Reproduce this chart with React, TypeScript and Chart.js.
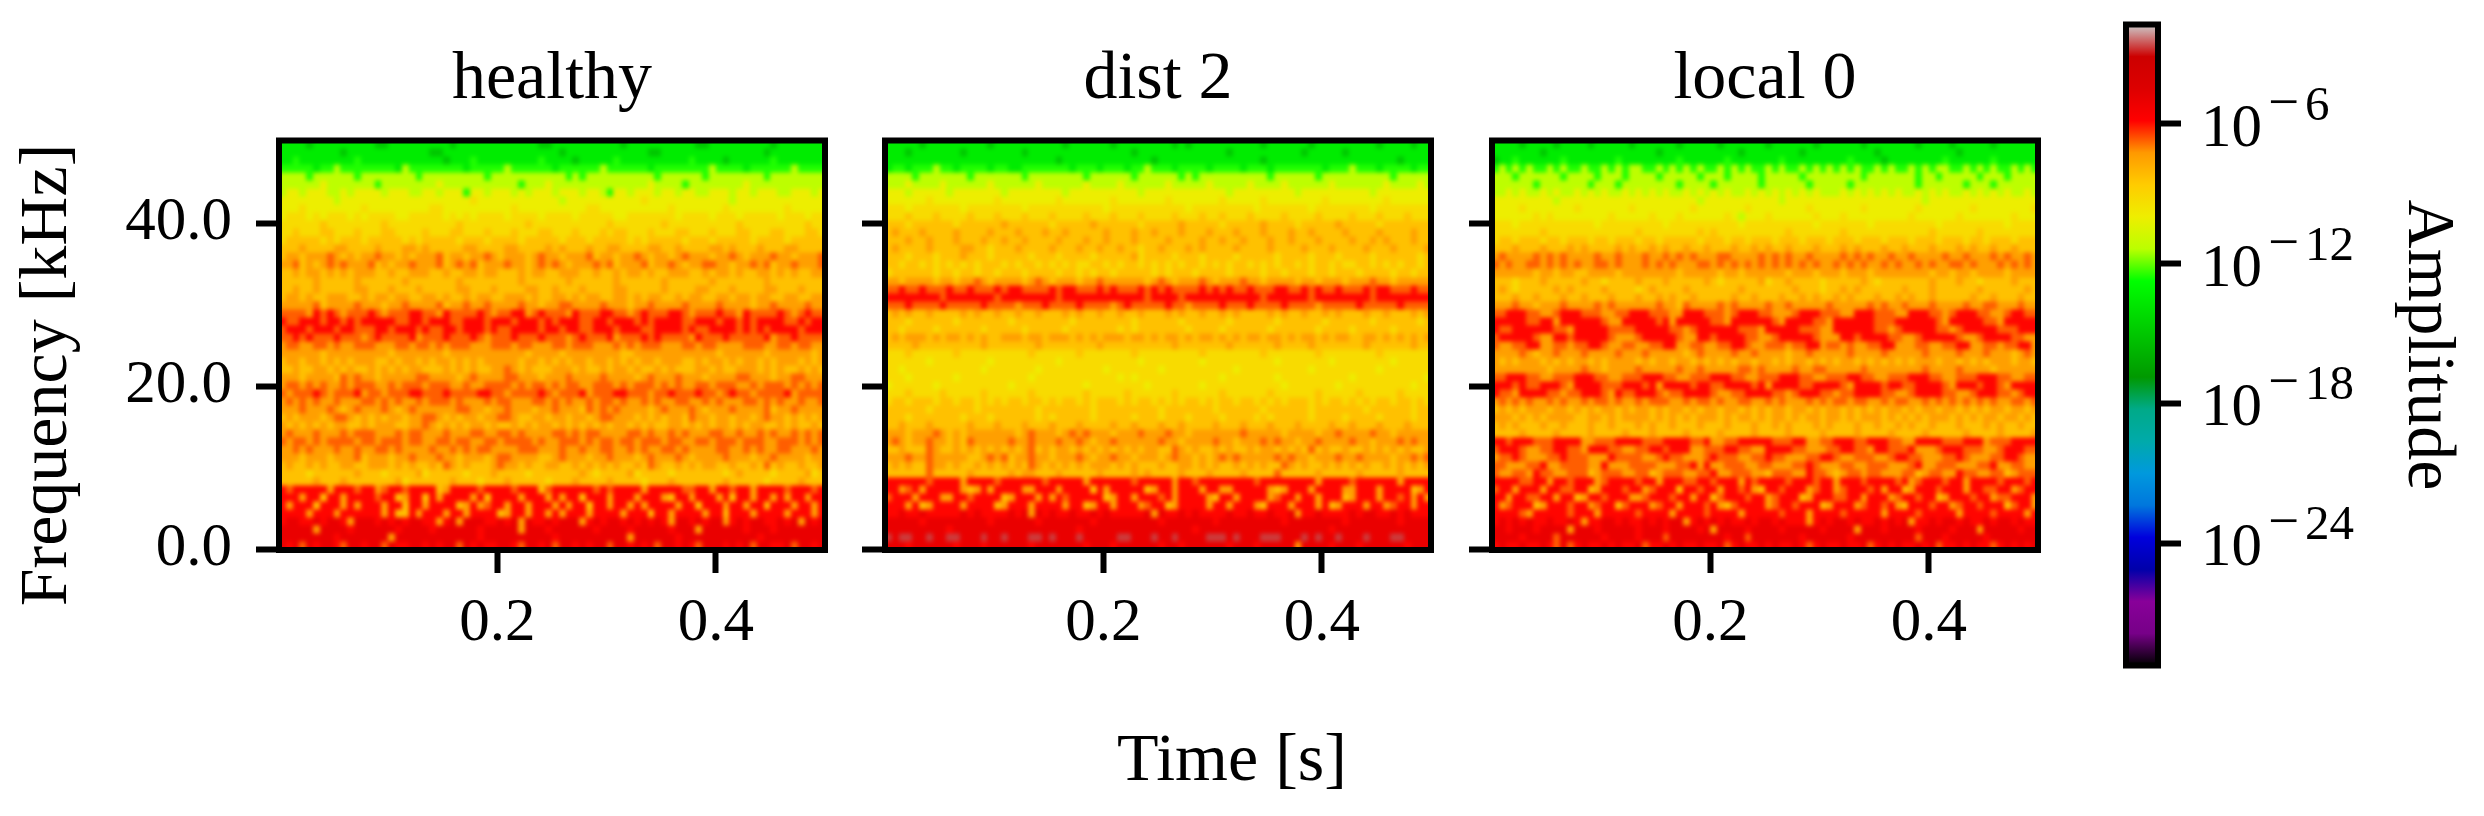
import { useEffect, useRef } from "react"
import { Chart, registerables } from "chart.js"

Chart.register(...registerables)

const FIG_W = 2484
const FIG_H = 816
const SERIF = "'Liberation Serif', serif"

const panelTitles = ["healthy", "dist 2", "local 0"]
const timeTicks = [0.2, 0.4]
const freqTicks = [0, 20, 40]
const ampExponents = [-6, -12, -18, -24]

// log10 amplitude for each character used in the cell rows below
const levelValues: Record<string, number> = {
  "0": -15, "1": -13.5, "2": -12.5, "3": -11.3, "4": -10, "5": -9.2,
  "6": -8.3, "7": -7.4, "8": -6.7, "9": -5.9, a: -5, b: -2.7,
}

// rows run from the top of the panel (50 kHz) down to 0 kHz, estimated by eye
const healthyCells = [
  "11110111111111001111111110111111111111001111111111011111111110011111111101111111",
  "11111111101111111111110011111111111111111011111111111100111111111111111011111111",
  "11211111111211111111111101112111111111211110111112111111111121111011111121111111",
  "22222122322222222132222222212222232222221222222322222212222222232222122222232222",
  "33332333333233333333233333333323333333333323233333333332333333233333333233333333",
  "33333343333333233333333433333333333233343333333333333343333233333333433333333333",
  "34434443343444434443344344424434443434443444344324434443443443344434434443344434",
  "44444444344444444444444444445444444444444344444444444544444444444434444444444444",
  "44454444444454444444445544444444445444444444455444444444454444444544444444544444",
  "45554545554545555445555545454555545555455554555554455555554555545554555554555455",
  "55555565555555565555555555655555555565555555555565555555655555555556555555555655",
  "55655566555655566555565556655565556555665556555656655565556655565556655566555665",
  "56666656566656666656566666566656666566666566656666656566666566656666656666566666",
  "66676666776666766677676666677666677666676766676677666677667666677676667666776666",
  "67767778767677877676777867767787677767877677786776778767767877767787677787767778",
  "77867678787778676778777867878677787767878767778786777867787677887767787867787778",
  "66767767676777667667776676677677666767766777667667677676677766767767667767676677",
  "66666766666766666676666666766666666766666676666667666666766666676666666766666666",
  "66766766666776667666766666776667666677667666766667766666766667766676666776667666",
  "67767667776676776776677676676776677767667767677667767677667677667767767766776677",
  "77777867777877767787777867787787777877677887777877767787777877778777767787777877",
  "88887989878889878889988798888987889978988879888998878988899878889887988889878988",
  "98899989989899999889989998899989998999898999889989998989999889998998989999889899",
  "89998999899888998999898899899989889999899899889998999889999898899998989899998999",
  "88989888988878988889788898889878889888988878988897888989888879888988888978898888",
  "78877887877888777887887878887778887887778878887778787888777887887777888778878877",
  "77777767777777776777777767777777777767777677777777667777777777776777777677777767",
  "67767767676777667677676776767677777677676767767767676776777667677676776767776767",
  "66766776767667676767766676767667787676667776766767767667676667767667776767667676",
  "77767777687877677777887777678777788777677787777877776787778777677778877767788777",
  "78878787787888778788878887787788887878878788778887878887878778878887787888787878",
  "87888987888978878889988898888998878888987888978889988878898889887898878888978888",
  "78787877877788787877878887877787887778878787787887877878778877878777887878778778",
  "77787778767877787678777777887767787776778777687878777767877787677787777867787777",
  "67677767887676767767788767677677887667767767767887776767677687767767767877676767",
  "76767676776676777667787676767767667676776767676767767676677676767767677667676676",
  "78777877787888777878877787778877887877778878788777788787787877788778778787787878",
  "87887878888788788878877887887788788887877888787887887888788778878887888778887878",
  "77878777877877887877778778787887777888777877877887787877887877778877878778877787",
  "77767776777867776778777877677767887777667877767787776787778767777877767787777677",
  "67667676677667776767667687676667877676677667676767667687667676776676676867667667",
  "66665666666766656666756666656667666656666666765666675666656666666567666656666756",
  "66666766676666666756666667666566676666656667666676666566676666666766666566667666",
  "98999997999899789989999679999899998999689999998989999799999889979989979999899989",
  "99979969979999899679969799997969999799979799699979997999769979997969979979799799",
  "97999699979799979969979999679789979979997979969979979799997996999799799699979979",
  "99997999799999979669799979979999679979979799979999799969979999799699979999799979",
  "9aa99a9aa97aaa9a9a9aa9979a7aaa99a9a7a99a9aaa79a9aa9a9a9a97aa9a9aa79a9aa99a9a7a9a",
  "aaaaa7aaaa9aaaaaa9aaaa9aaaaaa9aaaaa7aaa9aaaaaa9aaaa9aaaaa9aaa7aaaaaa9aaa9aaaaaaa",
  "aaaaaaaa9aaaaaaa7aaaaaaaaaaaa9aaaaaaaaaa9aaaaaaaaaa7aaaaaa9aaaaaaaaaaa9aaaaaaaaa",
  "a9a8a9aa98aa9aa8a99aa9a9aa8a9a99aa98aa9a8aa9a9aa8aa9a9a8aa9a98aaa9a9a8aa99a8aa9a",
]

const dist2Cells = [
  "11111011111111101111111111011111101111111101011111111110111111011111111101111011",
  "11101111111011111111011111111111111101111111111111011111111110111110111111111111",
  "11111111111111111111111110111111111111101111111111111110111111111111111111101111",
  "12212223221222212211222222212221222122322212222122221222122222221222322212222122",
  "33332333333323333333233333333233333323333332323333333333233333323333333333233333",
  "33343333433333343333334333333433334333333433333433333433334333333433333334333343",
  "44434444434444444344444444344444444443444444444444344444444434444444444344444444",
  "44444454444444445444444445444444454444444544444445444445444444445444444445444444",
  "55545555555455555555455555555555455555555555455555555545555555455555555455555555",
  "55565556555565556555655565555655565556555565556556555655556555565555655565556555",
  "66656666665666666766666656666676666665666667666665666667666656666676666656666666",
  "67666766667666676667666766766666766676676667666766676667666766766667666676666766",
  "66676676667666766766766667666766766676666766667667667666766766676666766767666766",
  "67666676666776656667666676667667667665667666767666676666766667666766667666766667",
  "66656665666766656666656665666656666675666656665666656666656666566656666566666656",
  "66566565656565666565665656565566565665656565665656566565656656566565566565656656",
  "56666665665665665666566665665656656666656566656666566665665666566566656666566566",
  "77677776776778767777678767776778777777678767778767778776777767767776777877677777",
  "88988988898898889899888898998889898889898988889898988988899889898898889899888988",
  "99999999899999998999999998999999999999899998999999999998999999899999999899999999",
  "88898888988888988887888988889888878988888988788889888988889888878888898888898888",
  "67676676666767667667667666767667667667666767667667676666767667667676667667666767",
  "66656666665666666656666666656666666656666665666666566666656666665666666566666656",
  "66566665666666566666566666566666665656666666566665666666566666656666566666566666",
  "67677767677676766777677677767676777677676776767767676776776767767677667767676767",
  "66667666666666766666667666666667666666666676666666766666676666766666667666666766",
  "55565555556555555555565555556555555565555555556555555556555555565555555565555555",
  "55555545555555545555555554555555555554555555554555555555545555555455555555455555",
  "55455555555555455555554555555555455555554555555555545555555555455555555545555555",
  "55545555554555555555545555555555554545555555555554555555545555555555455555555554",
  "45555554555555555545555555555455555555455555554555555555554555555545555555555455",
  "55565555655555655555565555555655555655555565555556555555655555565555565555565555",
  "56656665665665656566566565665656665656656565665656656656565666565665656566566565",
  "66666656666665666666665666666656666666665666666656666665666666566666665666666566",
  "66656666666566656666665656666656666656665666566665666656566666566665666656666566",
  "66766676666676667666766676667666676676667667666676667666766676666766766676667666",
  "77767778767677777776787776787877767778777877677777778777776777767787777877677777",
  "78767787767687777787787778778767787777778776777787767778787767787777877677787877",
  "66766687667676767676786767767676767676776687676676766767767676867667667676767667",
  "77787787777766787867787767778767787767776787767678787777787877677787787777677878",
  "67676687767667676767687676767677767676667667767676676767668767667676767667676767",
  "66666686666676666676776667666667666676766667666766667666686666676666676666676666",
  "99999989999799998999999899999799999989999979989999999989999999979999899999979999",
  "99789799999767979999779997999969799999679979997997799999767999799997799979999679",
  "89997999779989999679997979899999679979998979999769979999789979979996799979989797",
  "99979679999799996799979999799679979997899679999799799976999799979679997997899799",
  "99a99a99999a9a9999a9a7a9a99a99a9a99999a7a99a9a9999a99a99a99a799a9999a9aa99a9a999",
  "aaaaa9aaaaaaaaa9aaaaaa9aaaaaaa9aaaaaaaaa9aaaaaaa9aaaaaaaaa9aaaaaaaa9aaaaaaa9aaaa",
  "aaaaaaaaa9aaaaaaaaaaaaaaaaaa9aaaaaaaaaaaaaaaa9aaaaaaaaaaaaaaaaaaa9aaaaaaaaaaaaaa",
  "babbaabaabbaaabaabaaabbabaaabaaaaabbaaabaabaaaabbbabaaabbbaaababaabaaabaaabbaaaa",
  "aaa9aaaaaa9aaa9aaaaaa9aaaaaaa9aaa9aaaaaa9aa9aaaaaa9aaa9aaaaa7aaaa9aaa9aaaaaa9aaa",
]

const local0Cells = [
  "11110111101111011111011111101111101111110111111011111101111111011110111110111111",
  "11111110111111111111111101111111111101111111101111111111011111111111011111111111",
  "01121111112111111121111111121111112111111121111111112111101111111121111112111111",
  "23232322323223223232332232323232232323223232232323232322323223232332232323223232",
  "33323333332333323332333323333323332333323333323333333323333333233233333233323333",
  "33333323333333233323333333323333233333323333332333332333333333233333323332333333",
  "33434334343343434334343434334343434334343434343433343434343433434343343434343343",
  "44444444434444444444444444444434444444444434444444444444444444434444444444444444",
  "44445444444454444444544444444544444445444444445444444454444444544444445444444445",
  "44444454544444444544444544454444445434445444444544454444444445444444544444445444",
  "55545555555555545555555554555555555545555555555455555554555555555455555555545555",
  "55555556555555555555565555555565655555555556555555565555555555556555555655555555",
  "56656665665666566566656656666656665665666566656665666566656665666566656656665666",
  "66676667666767666676766767667667666766767667666766676766676676667666767667667666",
  "78777787878777787787778778787877788777787878778777787878778778777787787778787787",
  "87877887878787788787778787877788787878787878787877878787787877878778878777878787",
  "77777767767766777767777777767777767767777776777677767776777777776776776777767777",
  "66656667666667665666676667666667656666675667666656666676566666667666766566667666",
  "67656666676766667666656766667666666676666666766656676766666676667666666766666676",
  "66676676667667666766676676766766666766766676676766767666766767667666667667666766",
  "77787767778777787877777787768777787877778778777778777778787787778777787788777877",
  "88999887789998887788999888779998887899988777899988877999888779998878999887789988",
  "99999889979999998779999989799999887999999879999887999999888999999879999988799999",
  "98899999988799999888899999887899999988879999988877999999887899999887899999888999",
  "89999987799899999877789999987799899998877899999877799899998877899999877899998877",
  "87788997788788998778877889977887788998778887889978878778899777887788997788788997",
  "77778767787778777787778777776787777877877776778777778777787777787777877787776787",
  "76767776767677676777767677677676767677677676776767677676767676777677676767776776",
  "77777777677778776777787777787787777788787777877887777787777777787777877776777777",
  "88999887788899988778889998877888999887788899988778889988778889998877888999887788",
  "99989889998799998889998979999899889999897999988999987999989988999987999899879999",
  "98879999887889998798899987889999877889999887899988788999988778999988778999887899",
  "78787877878778788787787888778788787788778787778787887887787887787878787878778878",
  "67676777677676767767677676776767767767676776776767767676767767677677676767767767",
  "77767676777766776767777676767677767677676776767767767677767676767776767677677676",
  "67676667667666766766676766766676667666766767666767666766766767667666766676766766",
  "66667666676666766667666766667666676666766667666676666766667666676666676666766667",
  "99899988899997788899998889999889778899999888997788999889998877999988899978889999",
  "89998778899887999887788998999778889988779999887778899887998889777899988877899988",
  "78898777889888777988887789887778988877889887778899877888778998877788987778899877",
  "88777889778888779777888877788979778887788777889877788778887778977888777889778877",
  "87788798877888678887788678887788977888776888779887678878877788678877988778867888",
  "99998899799899978999989979998899899979899998999899799989999897899989979999899989",
  "89979997998899679998997899969989979989769989997899789998979967999899979988997899",
  "99799889979967998999778999899799689998997899967999889979997899899679998997889997",
  "97899967999899789968999789979998976899997899899967999789989769998997899899968997",
  "99998799999899979999989999799998999979999989997999989999979999899999799998999979",
  "9a9a9a99a99a9799aa9a99a9a9aa79a9a9a99a9aa9a99979a9aa9a99a9a9a799a9aa9a99a9aa9a99",
  "aa9aaa9aaaa7aaa9aaaaa9aaa9aaaa9a7aaaa9aaaa9aaaaa9aaaa7aaa9aaaa9aaaa9aaa7aaaaa9aa",
  "aaaa9aaaa8aaaaaa9aaaa9aaa8aaaaaaaa9aa8aaaaaaa9aaaaaa9aaaaaaaaa8aaa9aaaaa9aaaaaaa",
  "9a99a99a98a89a99a9a99a899a9a99a99a89a99a9a99a989a99a99a89a9a99a9a899a9a9989a9a9a",
]

// nipy_spectral, one colour per 0.05 of the scale
const spectralStops = [
  [0, 0, 0], [119, 0, 136], [136, 0, 153], [0, 0, 170], [0, 0, 221], [0, 119, 221], [0, 153, 221],
  [0, 170, 170], [0, 170, 136], [0, 153, 0], [0, 187, 0], [0, 221, 0], [0, 255, 0], [187, 255, 0],
  [238, 238, 0], [255, 204, 0], [255, 153, 0], [255, 0, 0], [221, 0, 0], [204, 0, 0], [204, 204, 204],
]

const LOG_MIN = -29.25
const LOG_MAX = -1.73

function amplitudeColor(logAmp: number) {
  const pos = Math.min(0.9999, Math.max(0, (logAmp - LOG_MIN) / (LOG_MAX - LOG_MIN))) * 20
  const i = Math.floor(pos)
  const f = pos - i
  const c = spectralStops[i].map((v, k) => Math.round(v + (spectralStops[i + 1][k] - v) * f))
  return `rgb(${c[0]},${c[1]},${c[2]})`
}

const FREQ_MIN = -0.09
const FREQ_MAX = 50.12
const TIME_MAX = 0.5
const PANEL_W = 546

function cellsFrom(rows: string[]) {
  const cells: any[] = []
  const rowH = (FREQ_MAX - FREQ_MIN) / rows.length
  rows.forEach((row, r) => {
    const colW = TIME_MAX / row.length
    row.split("").forEach((ch, c) => {
      cells.push({ x: c * colW, y: FREQ_MAX - r * rowH, w: colW, h: rowH, v: levelValues[ch] })
    })
  })
  return cells
}

const heatmapPlugin = {
  id: "heatmap",
  beforeDatasetsDraw(chart: any) {
    const { ctx, chartArea: area, scales } = chart
    const pad = 8
    const off = document.createElement("canvas")
    off.width = Math.ceil(area.width + pad * 2)
    off.height = Math.ceil(area.height + pad * 2)
    const oc = off.getContext("2d")!
    for (const cell of chart.data.datasets[0].data) {
      let x0 = Math.round(scales.x.getPixelForValue(cell.x) - area.left + pad)
      let x1 = Math.round(scales.x.getPixelForValue(cell.x + cell.w) - area.left + pad)
      let y0 = Math.round(scales.y.getPixelForValue(cell.y) - area.top + pad)
      let y1 = Math.round(scales.y.getPixelForValue(cell.y - cell.h) - area.top + pad)
      if (cell.x === 0) x0 = 0
      if (cell.x + cell.w >= TIME_MAX - 1e-9) x1 = off.width
      if (cell.y >= FREQ_MAX - 1e-9) y0 = 0
      if (cell.y - cell.h <= FREQ_MIN + 1e-9) y1 = off.height
      oc.fillStyle = amplitudeColor(cell.v)
      oc.fillRect(x0, y0, x1 - x0, y1 - y0)
    }
    ctx.save()
    ctx.beginPath()
    ctx.rect(area.left, area.top, area.width, area.height)
    ctx.clip()
    ctx.filter = "blur(2px)"
    ctx.drawImage(off, area.left - pad, area.top - pad)
    ctx.restore()
  },
}

const framePlugin = {
  id: "frame",
  afterDatasetsDraw(chart: any) {
    const { ctx, chartArea: area } = chart
    ctx.save()
    ctx.strokeStyle = "#000"
    ctx.lineWidth = 6
    ctx.strokeRect(area.left, area.top, area.width, area.height)
    ctx.restore()
  },
}

function figureText(text: string, x: number, y: number, rotate: number) {
  return {
    id: "figureText",
    afterDraw(chart: any) {
      const { ctx } = chart
      ctx.save()
      ctx.translate(x, y)
      ctx.rotate(rotate)
      ctx.font = `68px ${SERIF}`
      ctx.fillStyle = "#000"
      ctx.textAlign = "center"
      ctx.textBaseline = "alphabetic"
      ctx.fillText(text, 0, 0)
      ctx.restore()
    },
  }
}

const tickLook = { drawOnChartArea: false, drawTicks: true, tickLength: 23, tickWidth: 6, tickColor: "#000" }
const tickFont = { family: SERIF, size: 61 }

function Panel({ rows, title, left, showFreq, extra }: any) {
  const ref = useRef<HTMLCanvasElement>(null)
  useEffect(() => {
    if (!ref.current) return
    const chart = new Chart(ref.current, {
      type: "scatter",
      data: { datasets: [{ data: cellsFrom(rows), pointRadius: 0 }] },
      plugins: [heatmapPlugin, framePlugin, ...(extra ? [extra] : [])],
      options: {
        responsive: false,
        animation: false,
        devicePixelRatio: 1,
        events: [],
        layout: { padding: { left: left - 200, right: FIG_W - (left + PANEL_W), top: 0, bottom: 0 } },
        plugins: {
          legend: { display: false },
          tooltip: { enabled: false },
          title: {
            display: true,
            text: title,
            fullSize: false,
            color: "#000",
            font: { family: SERIF, size: 68, weight: "normal", lineHeight: 1 },
            padding: { top: 46, bottom: 26.5 },
          },
        },
        scales: {
          x: {
            type: "linear",
            min: 0,
            max: TIME_MAX,
            afterBuildTicks: (s: any) => { s.ticks = timeTicks.map((value) => ({ value })) },
            afterFit: (s: any) => { s.height = FIG_H - 550 },
            grid: tickLook,
            border: { display: false },
            ticks: { font: tickFont, color: "#000", padding: 14, maxRotation: 0, autoSkip: false, callback: (v: any) => Number(v).toFixed(1) },
          },
          y: {
            type: "linear",
            min: FREQ_MIN,
            max: FREQ_MAX,
            afterBuildTicks: (s: any) => { s.ticks = freqTicks.map((value) => ({ value })) },
            afterFit: (s: any) => { s.width = 200 },
            grid: tickLook,
            border: { display: false },
            ticks: { display: showFreq, font: tickFont, color: "#000", padding: 24, autoSkip: false, callback: (v: any) => Number(v).toFixed(1) },
          },
        },
      } as any,
    })
    return () => chart.destroy()
  }, [rows, title, left, showFreq, extra])
  return <canvas ref={ref} width={FIG_W} height={FIG_H} style={{ position: "absolute", left: 0, top: 0 }} />
}

const exponentPlugin = {
  id: "exponents",
  afterDraw(chart: any) {
    const { ctx, scales } = chart
    ctx.save()
    ctx.fillStyle = "#000"
    ctx.textBaseline = "alphabetic"
    for (const e of ampExponents) {
      const y = scales.y.getPixelForValue(Math.pow(10, e))
      ctx.font = `61px ${SERIF}`
      ctx.fillText("10", 2201, y + 22)
      ctx.font = `55px ${SERIF}`
      ctx.fillText("\u2212", 2268, y - 4)
      ctx.font = `49px ${SERIF}`
      ctx.fillText(String(Math.abs(e)), 2305, y - 4)
    }
    ctx.restore()
  },
}

function Colorbar() {
  const ref = useRef<HTMLCanvasElement>(null)
  useEffect(() => {
    if (!ref.current) return
    const chart = new Chart(ref.current, {
      type: "bar",
      data: {
        labels: ["Amplitude"],
        datasets: [{
          data: [[Math.pow(10, LOG_MIN), Math.pow(10, LOG_MAX)]],
          barPercentage: 1,
          categoryPercentage: 1,
          backgroundColor: (c: any) => {
            const area = c.chart.chartArea
            if (!area) return "#000"
            const g = c.chart.ctx.createLinearGradient(0, area.bottom, 0, area.top)
            spectralStops.forEach((s, i) => g.addColorStop(i / 20, `rgb(${s[0]},${s[1]},${s[2]})`))
            return g
          },
        }],
      },
      plugins: [framePlugin, exponentPlugin],
      options: {
        responsive: false,
        animation: false,
        devicePixelRatio: 1,
        events: [],
        layout: { padding: { left: 2126, right: 0, top: 24.5, bottom: FIG_H - 665.5 } },
        plugins: { legend: { display: false }, tooltip: { enabled: false } },
        scales: {
          x: { display: false },
          y: {
            type: "logarithmic",
            position: "right",
            min: Math.pow(10, LOG_MIN),
            max: Math.pow(10, LOG_MAX),
            bounds: "data",
            afterBuildTicks: (s: any) => { s.ticks = ampExponents.map((e) => ({ value: Math.pow(10, e) })) },
            afterFit: (s: any) => { s.width = FIG_W - 2158 },
            grid: tickLook,
            border: { display: false },
            ticks: { display: false },
            title: {
              display: true,
              text: "Amplitude",
              color: "#000",
              font: { family: SERIF, size: 68, lineHeight: 1 },
              padding: { top: 23, bottom: 0 },
            },
          },
        },
      } as any,
    })
    return () => chart.destroy()
  }, [])
  return <canvas ref={ref} width={FIG_W} height={FIG_H} style={{ position: "absolute", left: 0, top: 0 }} />
}

const freqLabel = figureText("Frequency [kHz]", 66, 375, -Math.PI / 2)
const timeLabel = figureText("Time [s]", 1232, 780, 0)

export default function App() {
  return (
    <div style={{ position: "absolute", left: 0, top: 0, width: FIG_W, height: FIG_H, overflow: "hidden", background: "#fff" }}>
      <Panel rows={healthyCells} title={panelTitles[0]} left={279} showFreq extra={freqLabel} />
      <Panel rows={dist2Cells} title={panelTitles[1]} left={885} showFreq={false} extra={timeLabel} />
      <Panel rows={local0Cells} title={panelTitles[2]} left={1492} showFreq={false} />
      <Colorbar />
    </div>
  )
}
